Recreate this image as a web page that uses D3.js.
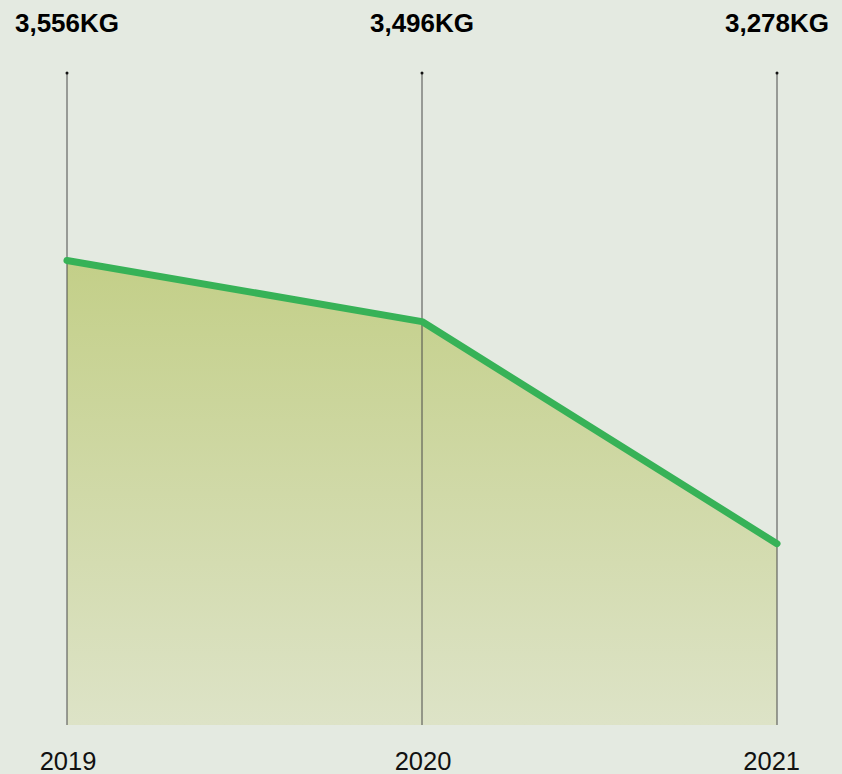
<!DOCTYPE html>
<html><head><meta charset="utf-8">
<script src="https://cdn.jsdelivr.net/npm/d3@7"></script>
<style>html,body{margin:0;padding:0;background:#e4eae1;}svg{display:block;}</style>
</head><body>
<script>
const years = ["2019", "2020", "2021"];
const values = [3556, 3496, 3278];
const valueLabels = ["3,556KG", "3,496KG", "3,278KG"];

const W = 842, H = 774;
const svg = d3.select("body").append("svg").attr("width", W).attr("height", H);
svg.append("rect").attr("width", W).attr("height", H).attr("fill", "#e4eae1");

const x = d3.scalePoint().domain(years).range([67, 777]);
const y = d3.scaleLinear().domain([3100, 3740]).range([725, 73]);
const data = years.map((d, i) => ({year: d, value: values[i], label: valueLabels[i]}));

const defs = svg.append("defs");
const grad = defs.append("linearGradient").attr("id", "fillGrad")
  .attr("x1", 0).attr("y1", 0).attr("x2", 0).attr("y2", 1);
grad.append("stop").attr("offset", "0%").attr("stop-color", "#c3cf88");
grad.append("stop").attr("offset", "100%").attr("stop-color", "#dde3c7");

svg.append("path").datum(data)
  .attr("d", d3.area().x(d => x(d.year)).y0(y(3100)).y1(d => y(d.value)))
  .attr("fill", "url(#fillGrad)");

svg.selectAll("line.guide").data(data).join("line").attr("class", "guide")
  .attr("x1", d => x(d.year)).attr("x2", d => x(d.year))
  .attr("y1", y(3740)).attr("y2", y(3100))
  .attr("stroke", "#4a4a4a").attr("stroke-width", 1);
svg.selectAll("circle.tip").data(data).join("circle").attr("class", "tip")
  .attr("cx", d => x(d.year)).attr("cy", y(3740)).attr("r", 1.5).attr("fill", "#111");

svg.append("path").datum(data)
  .attr("d", d3.line().x(d => x(d.year)).y(d => y(d.value)))
  .attr("fill", "none").attr("stroke", "#37b257").attr("stroke-width", 7)
  .attr("stroke-linecap", "round").attr("stroke-linejoin", "round");

svg.selectAll("text.val").data(data).join("text").attr("class", "val")
  .attr("x", d => x(d.year)).attr("y", 32).attr("text-anchor", "middle")
  .attr("font-family", "'Liberation Sans', Arial, Helvetica, sans-serif")
  .attr("font-weight", "bold").attr("font-size", 26).attr("fill", "#000")
  .text(d => d.label);

const yearText = svg.selectAll("text.year").data(data).join("text").attr("class", "year")
  .attr("y", 770).attr("text-anchor", "start")
  .attr("font-family", "'Liberation Sans', Arial, Helvetica, sans-serif")
  .attr("font-size", 25.5).attr("fill", "#111")
  .text(d => d.year);
// center under each guide, but keep inside the right edge
yearText.each(function(d) {
  const w = this.getComputedTextLength();
  let left = x(d.year) + 1 - w / 2;
  left = Math.min(left, 800 - w);
  d3.select(this).attr("x", left);
});
</script>
</body></html>
